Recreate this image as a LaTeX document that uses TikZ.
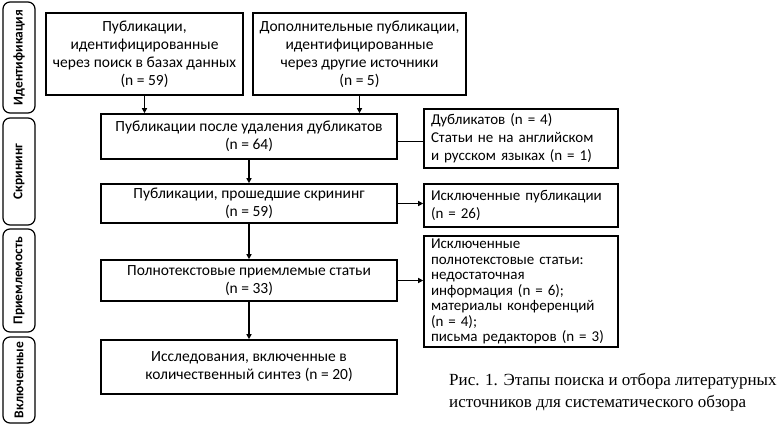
\documentclass[tikz,border=0pt]{standalone}
\usepackage{fontspec}
\setmainfont{Carlito}
\newfontfamily\capfont{Liberation Serif}
\usetikzlibrary{arrows.meta,positioning}

\begin{document}
\begin{tikzpicture}[x=1pt,y=-1pt,
    box/.style={draw,line width=1.6pt,align=center,inner sep=0pt,
      font=\fontsize{15.5}{18}\selectfont},
    notebox/.style={box,align=left,text width=180pt,minimum width=194pt,
      font=\fontsize{15}{18}\selectfont},
    tab/.style={draw,line width=1.2pt,rounded corners=7pt,rotate=90,
      minimum height=32pt,inner sep=0pt,font=\bfseries\fontsize{13.5}{15}\selectfont},
    arr/.style={line width=1.4pt,-{Triangle[length=5pt,width=5pt]}}]
  \useasboundingbox (0,0) rectangle (782,425);
  % stage tabs
  \node[tab,minimum width=111pt] (tabid) at (19,57.5) {Идентификация};
  \node[tab,minimum width=107pt] (tabscr) at (19,171.5) {Скрининг};
  \node[tab,minimum width=103pt] (tabelig) at (19,280.5) {Приемлемость};
  \node[tab,minimum width=86pt] (tabincl) at (19,380) {Включенные};
  % main flow
  \node[box,minimum width=197pt,minimum height=82pt] (pubdb) at (144.5,54)
    {Публикации,\\идентифицированные\\через поиск в базах данных\\(n = 59)};
  \node[box,minimum width=213pt,minimum height=82pt] (pubother) at (359.5,54)
    {Дополнительные публикации,\\идентифицированные\\через другие источники\\(n = 5)};
  \node[box,minimum width=296pt,minimum height=45pt] (nodup) at (249,136.5)
    {Публикации после удаления дубликатов\\(n = 64)};
  \node[box,minimum width=296pt,minimum height=39pt] (screened) at (249,203.5)
    {Публикации, прошедшие скрининг\\(n = 59)};
  \node[box,minimum width=296pt,minimum height=41pt] (fulltext) at (249,280.5)
    {Полнотекстовые приемлемые статьи\\(n = 33)};
  \node[box,minimum width=296pt,minimum height=54pt] (synth) at (249,367)
    {Исследования, включенные в\\количественный синтез (n = 20)};
  % excluded
  \node[notebox,minimum height=59pt] (dups) at (521,138.5)
    {Дубликатов (n = 4)\\Статьи не на английском\\и русском языках (n = 1)};
  \node[notebox,minimum height=43pt] (exclpub) at (521,205.5)
    {Исключенные публикации\\(n = 26)};
  \node[notebox,minimum height=111pt,font=\fontsize{15}{15.5}\selectfont] (exclfull) at (521,291.5)
    {Исключенные\\полнотекстовые статьи:\\недостаточная\\информация (n = 6);\\материалы конференций\\(n = 4);\\письма редакторов (n = 3)};
  \node[anchor=north west,align=left,inner sep=0pt,font=\capfont\fontsize{17}{22}\selectfont] (caption) at (449,373)
    {Рис. 1. Этапы поиска и отбора литературных\\источников для систематического обзора};
  % connectors
  \draw[arr] (pubdb.south) -- (pubdb.south |- nodup.north);
  \draw[arr] (pubother.south) -- (pubother.south |- nodup.north);
  \draw[arr] (nodup) -- (screened);
  \draw[arr] (screened) -- (fulltext);
  \draw[arr] (fulltext) -- (synth);
  \coordinate (dupline) at ([yshift=-5pt]nodup.east);
  \draw[line width=1.4pt] (dupline) -- (dupline -| dups.west);
  \draw[arr] (screened.east) -- (screened.east -| exclpub.west);
  \draw[arr] (fulltext.east) -- (fulltext.east -| exclfull.west);
\end{tikzpicture}
\end{document}
